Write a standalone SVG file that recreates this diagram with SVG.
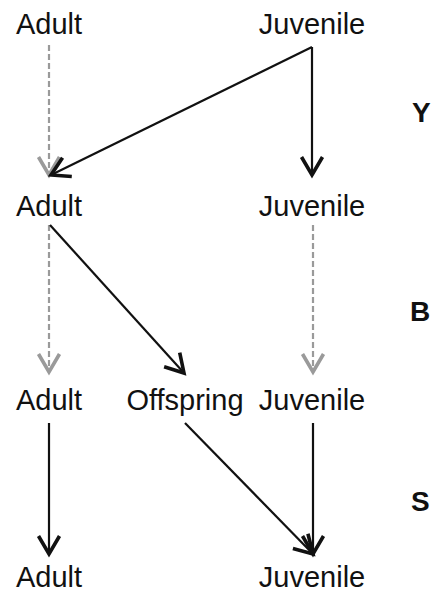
<svg xmlns="http://www.w3.org/2000/svg" width="433" height="594" viewBox="0 0 433 594">
<style>
.lbl{font-family:"Liberation Sans",Arial,sans-serif;font-size:29px;fill:#111}
.side{font-family:"Liberation Sans",Arial,sans-serif;font-size:28px;font-weight:bold;fill:#111}
.solid{stroke:#111;stroke-width:2.2;fill:none;marker-end:url(#ah)}
.dash{stroke:#9a9a9a;stroke-width:2.2;fill:none;stroke-dasharray:6 3;marker-end:url(#ahg)}
</style>
<defs>
<marker id="ah" markerUnits="userSpaceOnUse" markerWidth="30" markerHeight="30" viewBox="-15 -10 20 20" refX="0" refY="0" orient="auto" overflow="visible">
<path d="M-12,-7 L0,0 L-12,7" fill="none" stroke="#111" stroke-width="2.4" stroke-linejoin="miter"/>
</marker>
<marker id="ahg" markerUnits="userSpaceOnUse" markerWidth="30" markerHeight="30" viewBox="-15 -10 20 20" refX="0" refY="0" orient="auto" overflow="visible">
<path d="M-12,-7 L0,0 L-12,7" fill="none" stroke="#9a9a9a" stroke-width="2.4"/>
</marker>
</defs>
<rect width="433" height="594" fill="#fff"/>
<g id="connectors">
<line class="dash" x1="49" y1="45" x2="49" y2="175"/>
<line class="solid" x1="312" y1="47" x2="51" y2="175"/>
<line class="solid" x1="312" y1="47" x2="312" y2="175"/>
<line class="dash" x1="49" y1="225" x2="49" y2="372"/>
<line class="solid" x1="50" y1="225" x2="184" y2="373"/>
<line class="dash" x1="313" y1="225" x2="313" y2="372"/>
<line class="solid" x1="49" y1="423" x2="49" y2="554"/>
<line class="solid" x1="185" y1="423" x2="313" y2="554"/>
<line class="solid" x1="313" y1="423" x2="313" y2="554"/>
</g>
<g id="adult1"><text class="lbl" x="49" y="34" text-anchor="middle">Adult</text></g>
<g id="juvenile1"><text class="lbl" x="312" y="34" text-anchor="middle">Juvenile</text></g>
<g id="adult2"><text class="lbl" x="49" y="216" text-anchor="middle">Adult</text></g>
<g id="juvenile2"><text class="lbl" x="312" y="216" text-anchor="middle">Juvenile</text></g>
<g id="adult3"><text class="lbl" x="49" y="410" text-anchor="middle">Adult</text></g>
<g id="offspring3"><text class="lbl" x="185" y="410" text-anchor="middle">Offspring</text></g>
<g id="juvenile3"><text class="lbl" x="312" y="410" text-anchor="middle">Juvenile</text></g>
<g id="adult4"><text class="lbl" x="49" y="587" text-anchor="middle">Adult</text></g>
<g id="juvenile4"><text class="lbl" x="312" y="587" text-anchor="middle">Juvenile</text></g>
<g id="labelY"><text class="side" x="412" y="122">Y</text></g>
<g id="labelB"><text class="side" x="410" y="321">B</text></g>
<g id="labelS"><text class="side" x="411" y="511">S</text></g>
</svg>
